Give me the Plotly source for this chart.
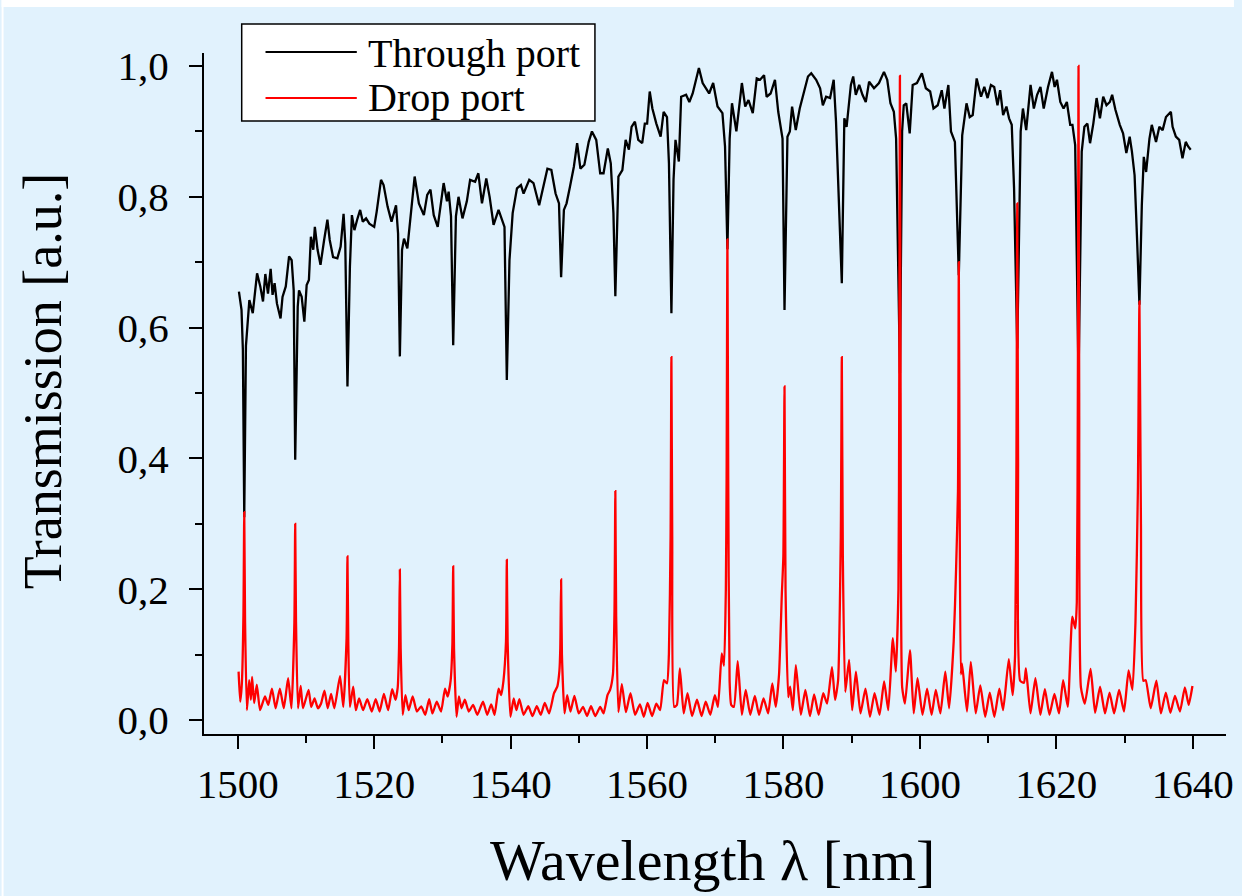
import plotly.graph_objects as go

# ---------------- data ----------------
series_names = ["Through port", "Drop port"]

wl_through = [
    1500.17, 1500.55, 1500.75, 1500.95, 1501.20, 1501.70, 1502.20, 1502.83, 1503.30, 1503.70,
    1504.04, 1504.43, 1504.82, 1505.10, 1505.40, 1505.74, 1506.27, 1506.56, 1507.04, 1507.52,
    1507.90, 1508.20, 1508.42, 1508.79, 1508.98, 1509.37, 1509.76, 1510.10, 1510.43, 1510.72,
    1511.07, 1511.30, 1511.70, 1512.13, 1512.66, 1513.14, 1513.48, 1513.97, 1514.60, 1515.08,
    1515.51, 1515.76, 1516.08, 1516.44, 1516.73, 1517.10, 1517.50, 1517.94, 1518.33, 1518.81,
    1519.29, 1520.00, 1520.36, 1521.00, 1521.38, 1521.96, 1522.54, 1523.20, 1523.50, 1523.76,
    1524.08, 1524.37, 1524.86, 1525.35, 1525.93, 1526.55, 1527.28, 1527.77, 1528.25, 1528.73,
    1529.31, 1530.18, 1530.67, 1530.91, 1531.26, 1531.58, 1531.98, 1532.36, 1532.94, 1533.58,
    1534.06, 1534.79, 1535.27, 1535.80, 1536.43, 1536.92, 1537.50, 1538.23, 1538.85, 1539.10,
    1539.44, 1539.83, 1540.30, 1540.93, 1541.51, 1541.90, 1542.73, 1543.35, 1544.18, 1544.80,
    1545.39, 1545.97, 1546.59, 1547.09, 1547.40, 1547.81, 1548.20, 1548.69, 1549.27, 1549.75,
    1550.23, 1550.81, 1551.45, 1551.92, 1552.55, 1553.13, 1553.62, 1554.25, 1554.68, 1555.07,
    1555.35, 1555.80, 1556.38, 1556.86, 1557.34, 1557.73, 1558.22, 1558.71, 1559.29, 1559.67,
    1560.01, 1560.39, 1560.78, 1561.36, 1561.99, 1562.43, 1562.92, 1563.21, 1563.57, 1563.88,
    1564.17, 1564.66, 1565.00, 1565.72, 1566.20, 1566.69, 1567.17, 1567.60, 1568.15, 1569.10,
    1569.69, 1570.33, 1571.05, 1571.43, 1571.78, 1572.11, 1572.45, 1573.09, 1573.42, 1573.90,
    1574.39, 1574.87, 1575.50, 1576.08, 1576.57, 1577.15, 1577.53, 1578.11, 1578.75, 1579.23,
    1579.86, 1580.15, 1580.58, 1580.93, 1581.26, 1581.80, 1582.38, 1582.86, 1583.59, 1584.07,
    1584.79, 1585.37, 1585.77, 1586.25, 1586.83, 1587.36, 1587.70, 1588.55, 1588.92, 1589.25,
    1589.88, 1590.22, 1590.60, 1591.10, 1591.58, 1592.06, 1592.55, 1593.27, 1594.00, 1594.73,
    1595.21, 1595.68, 1596.18, 1596.51, 1597.07, 1597.39, 1597.63, 1598.00, 1598.50, 1598.94,
    1599.56, 1600.29, 1600.87, 1601.50, 1601.99, 1602.61, 1603.20, 1603.59, 1604.17, 1604.55,
    1605.13, 1605.70, 1606.20, 1606.83, 1607.30, 1607.74, 1608.32, 1608.96, 1609.44, 1609.92,
    1610.41, 1610.89, 1611.37, 1611.76, 1612.20, 1612.68, 1613.07, 1613.46, 1613.80, 1614.27,
    1614.77, 1615.10, 1615.58, 1616.22, 1616.70, 1617.18, 1617.67, 1618.15, 1618.78, 1619.36,
    1619.75, 1620.09, 1620.58, 1621.06, 1621.54, 1622.03, 1622.36, 1622.76, 1623.25, 1623.72,
    1624.11, 1624.55, 1624.94, 1625.42, 1625.90, 1626.39, 1626.87, 1627.35, 1627.84, 1628.18,
    1628.66, 1629.30, 1629.78, 1630.26, 1630.75, 1631.08, 1631.47, 1631.85, 1632.18, 1632.53,
    1632.82, 1633.16, 1633.65, 1633.99, 1634.61, 1635.10, 1635.58, 1636.07, 1636.79, 1637.04,
    1637.52, 1638.01, 1638.49, 1638.97, 1639.32, 1639.70,
]

t_through = [
    0.655, 0.627, 0.566, 0.310, 0.572, 0.642, 0.622, 0.683, 0.663, 0.640,
    0.682, 0.652, 0.690, 0.650, 0.668, 0.637, 0.614, 0.647, 0.663, 0.709,
    0.703, 0.657, 0.398, 0.632, 0.657, 0.647, 0.609, 0.665, 0.673, 0.739,
    0.719, 0.754, 0.719, 0.696, 0.734, 0.765, 0.734, 0.708, 0.706, 0.724,
    0.774, 0.729, 0.510, 0.693, 0.772, 0.749, 0.765, 0.780, 0.762, 0.767,
    0.759, 0.754, 0.777, 0.826, 0.818, 0.785, 0.762, 0.787, 0.744, 0.556,
    0.719, 0.736, 0.721, 0.770, 0.831, 0.790, 0.772, 0.803, 0.811, 0.772,
    0.754, 0.821, 0.793, 0.808, 0.770, 0.573, 0.770, 0.800, 0.767, 0.793,
    0.826, 0.823, 0.836, 0.790, 0.828, 0.800, 0.757, 0.780, 0.759, 0.754,
    0.520, 0.703, 0.775, 0.813, 0.818, 0.805, 0.826, 0.821, 0.787, 0.815,
    0.843, 0.841, 0.805, 0.790, 0.677, 0.780, 0.790, 0.815, 0.846, 0.882,
    0.843, 0.849, 0.884, 0.900, 0.887, 0.836, 0.836, 0.874, 0.851, 0.775,
    0.648, 0.831, 0.841, 0.887, 0.872, 0.907, 0.915, 0.887, 0.882, 0.912,
    0.912, 0.961, 0.935, 0.912, 0.892, 0.930, 0.922, 0.851, 0.622, 0.826,
    0.887, 0.854, 0.953, 0.956, 0.945, 0.958, 0.979, 0.997, 0.974, 0.958,
    0.974, 0.938, 0.928, 0.877, 0.720, 0.889, 0.943, 0.900, 0.930, 0.974,
    0.938, 0.948, 0.928, 0.981, 0.979, 0.986, 0.953, 0.958, 0.979, 0.930,
    0.889, 0.627, 0.892, 0.900, 0.938, 0.902, 0.935, 0.956, 0.984, 0.989,
    0.979, 0.966, 0.940, 0.953, 0.951, 0.979, 0.915, 0.668, 0.920, 0.907,
    0.971, 0.984, 0.956, 0.971, 0.956, 0.945, 0.976, 0.966, 0.974, 0.991,
    0.979, 0.943, 0.930, 0.889, 0.530, 0.900, 0.940, 0.943, 0.897, 0.971,
    0.974, 0.989, 0.966, 0.961, 0.935, 0.940, 0.963, 0.935, 0.971, 0.900,
    0.884, 0.680, 0.894, 0.943, 0.922, 0.925, 0.981, 0.953, 0.968, 0.951,
    0.971, 0.968, 0.940, 0.963, 0.925, 0.938, 0.920, 0.910, 0.813, 0.568,
    0.900, 0.935, 0.902, 0.971, 0.935, 0.956, 0.968, 0.935, 0.968, 0.991,
    0.968, 0.979, 0.945, 0.935, 0.945, 0.910, 0.910, 0.879, 0.522, 0.869,
    0.907, 0.912, 0.882, 0.912, 0.951, 0.920, 0.953, 0.940, 0.945, 0.956,
    0.933, 0.910, 0.897, 0.867, 0.892, 0.869, 0.833, 0.731, 0.635, 0.787,
    0.861, 0.838, 0.889, 0.910, 0.884, 0.907, 0.902, 0.922, 0.930, 0.907,
    0.892, 0.887, 0.859, 0.884, 0.877, 0.872,
]

wl_drop = [
    1500.12, 1500.36, 1500.60, 1500.83, 1500.95, 1501.07, 1501.34, 1501.67, 1501.92, 1502.10,
    1502.40, 1502.79, 1503.27, 1503.99, 1504.47, 1505.01, 1505.55, 1506.17, 1506.75, 1507.38,
    1507.87, 1508.30, 1508.42, 1508.54, 1508.83, 1509.22, 1509.56, 1510.38, 1510.77, 1511.26,
    1511.74, 1512.20, 1512.71, 1513.19, 1513.68, 1514.16, 1514.99, 1515.47, 1515.95, 1516.08,
    1516.20, 1516.44, 1516.92, 1517.31, 1517.79, 1518.37, 1518.99, 1519.64, 1520.22, 1520.80,
    1521.42, 1522.05, 1522.63, 1523.12, 1523.45, 1523.64, 1523.76, 1523.88, 1524.18, 1524.58,
    1525.05, 1525.64, 1526.26, 1526.90, 1527.48, 1528.06, 1528.54, 1529.17, 1529.80, 1530.38,
    1530.76, 1531.20, 1531.46, 1531.58, 1531.70, 1532.07, 1532.42, 1532.80, 1533.29, 1533.87,
    1534.50, 1535.12, 1535.95, 1536.57, 1537.15, 1537.65, 1538.23, 1538.61, 1538.95, 1539.32,
    1539.44, 1539.56, 1539.97, 1540.45, 1540.84, 1541.28, 1541.90, 1542.59, 1543.21, 1543.83,
    1544.42, 1545.00, 1545.64, 1546.36, 1546.84, 1547.15, 1547.28, 1547.40, 1547.52, 1547.90,
    1548.29, 1548.77, 1549.35, 1549.99, 1550.62, 1551.20, 1551.78, 1552.40, 1553.13, 1553.62,
    1554.20, 1554.58, 1555.00, 1555.23, 1555.35, 1555.47, 1555.80, 1556.30, 1556.90, 1557.57,
    1558.24, 1558.96, 1559.52, 1560.08, 1560.74, 1561.36, 1561.92, 1562.47, 1562.92, 1563.20,
    1563.45, 1563.57, 1563.69, 1563.98, 1564.37, 1564.81, 1565.37, 1565.93, 1566.60, 1567.32,
    1567.99, 1568.60, 1569.27, 1569.94, 1570.39, 1570.95, 1571.28, 1571.55, 1571.66, 1571.78,
    1571.90, 1572.10, 1572.34, 1572.73, 1573.29, 1573.90, 1574.46, 1575.13, 1575.80, 1576.41,
    1577.08, 1577.75, 1578.36, 1578.86, 1579.35, 1579.75, 1579.98, 1580.15, 1580.30, 1580.70,
    1580.98, 1581.37, 1581.81, 1582.54, 1583.21, 1583.88, 1584.49, 1585.16, 1585.83, 1586.39,
    1587.11, 1587.56, 1588.00, 1588.40, 1588.55, 1588.70, 1589.06, 1589.62, 1590.07, 1590.62,
    1591.29, 1592.02, 1592.68, 1593.35, 1594.08, 1594.75, 1595.36, 1596.03, 1596.47, 1596.85,
    1596.97, 1597.07, 1597.17, 1597.40, 1597.81, 1598.54, 1599.09, 1599.65, 1600.38, 1601.05,
    1601.71, 1602.33, 1603.00, 1603.72, 1604.28, 1604.95, 1605.30, 1605.58, 1605.70, 1605.82,
    1606.00, 1606.18, 1606.90, 1607.46, 1608.18, 1608.85, 1609.57, 1610.24, 1610.91, 1611.64,
    1612.19, 1613.03, 1613.59, 1613.95, 1614.15, 1614.27, 1614.39, 1614.70, 1615.26, 1615.54,
    1616.21, 1616.93, 1617.66, 1618.32, 1618.99, 1619.72, 1620.39, 1621.00, 1621.67, 1622.34,
    1622.78, 1623.00, 1623.15, 1623.25, 1623.35, 1623.60, 1624.18, 1625.02, 1625.68, 1626.41,
    1627.13, 1627.80, 1628.47, 1629.20, 1629.92, 1630.59, 1631.15, 1631.60, 1631.95, 1632.18,
    1632.40, 1632.75, 1633.10, 1633.83, 1634.66, 1635.33, 1636.05, 1636.72, 1637.39, 1638.12,
    1638.84, 1639.40, 1639.95,
]

t_drop = [
    0.074, 0.028, 0.056, 0.160, 0.318, 0.150, 0.015, 0.061, 0.031, 0.066,
    0.026, 0.054, 0.015, 0.036, 0.023, 0.048, 0.018, 0.048, 0.018, 0.064,
    0.018, 0.150, 0.300, 0.150, 0.018, 0.052, 0.018, 0.046, 0.020, 0.033,
    0.018, 0.025, 0.045, 0.018, 0.040, 0.018, 0.067, 0.020, 0.125, 0.250,
    0.120, 0.020, 0.051, 0.015, 0.033, 0.015, 0.032, 0.013, 0.032, 0.013,
    0.040, 0.015, 0.047, 0.031, 0.050, 0.110, 0.230, 0.110, 0.008, 0.038,
    0.015, 0.036, 0.013, 0.021, 0.008, 0.032, 0.010, 0.028, 0.013, 0.048,
    0.036, 0.060, 0.115, 0.235, 0.110, 0.005, 0.036, 0.018, 0.031, 0.013,
    0.023, 0.008, 0.028, 0.008, 0.024, 0.008, 0.048, 0.038, 0.060, 0.120,
    0.245, 0.120, 0.005, 0.033, 0.015, 0.032, 0.008, 0.021, 0.006, 0.021,
    0.008, 0.026, 0.010, 0.041, 0.051, 0.075, 0.110, 0.215, 0.100, 0.010,
    0.038, 0.013, 0.037, 0.010, 0.020, 0.006, 0.021, 0.006, 0.020, 0.010,
    0.038, 0.046, 0.070, 0.170, 0.350, 0.160, 0.012, 0.055, 0.012, 0.041,
    0.008, 0.024, 0.005, 0.026, 0.006, 0.025, 0.015, 0.061, 0.056, 0.100,
    0.280, 0.555, 0.280, 0.020, 0.023, 0.079, 0.010, 0.041, 0.006, 0.031,
    0.006, 0.028, 0.008, 0.038, 0.020, 0.102, 0.083, 0.200, 0.370, 0.735,
    0.370, 0.060, 0.023, 0.020, 0.090, 0.008, 0.046, 0.008, 0.037, 0.008,
    0.033, 0.010, 0.056, 0.020, 0.070, 0.190, 0.250, 0.510, 0.200, 0.035,
    0.051, 0.015, 0.084, 0.008, 0.046, 0.006, 0.039, 0.008, 0.041, 0.025,
    0.081, 0.031, 0.060, 0.280, 0.555, 0.250, 0.043, 0.092, 0.015, 0.074,
    0.010, 0.048, 0.005, 0.041, 0.008, 0.059, 0.015, 0.125, 0.074, 0.200,
    0.500, 0.985, 0.500, 0.050, 0.025, 0.107, 0.010, 0.064, 0.008, 0.048,
    0.008, 0.046, 0.010, 0.074, 0.018, 0.120, 0.230, 0.350, 0.700, 0.350,
    0.070, 0.086, 0.013, 0.089, 0.010, 0.053, 0.005, 0.042, 0.005, 0.048,
    0.015, 0.093, 0.038, 0.100, 0.400, 0.790, 0.400, 0.060, 0.057, 0.079,
    0.010, 0.064, 0.008, 0.047, 0.008, 0.040, 0.010, 0.061, 0.020, 0.158,
    0.140, 0.180, 0.500, 1.000, 0.500, 0.050, 0.025, 0.078, 0.011, 0.051,
    0.010, 0.042, 0.010, 0.046, 0.013, 0.076, 0.046, 0.150, 0.350, 0.640,
    0.300, 0.060, 0.061, 0.018, 0.060, 0.010, 0.042, 0.011, 0.037, 0.013,
    0.050, 0.023, 0.052,
]

x_tick_vals = [1500, 1520, 1540, 1560, 1580, 1600, 1620, 1640]
x_tick_text = ["1500", "1520", "1540", "1560", "1580", "1600", "1620", "1640"]
x_minor_vals = [1510, 1530, 1550, 1570, 1590, 1610, 1630]
y_tick_vals = [0.0, 0.2, 0.4, 0.6, 0.8, 1.0]
y_tick_text = ["0,0", "0,2", "0,4", "0,6", "0,8", "1,0"]
y_minor_vals = [0.1, 0.3, 0.5, 0.7, 0.9]

assert len(wl_through) == len(t_through)
assert len(wl_drop) == len(t_drop)

# ---------------- layout geometry ----------------
W, H = 1242, 896
L, R, T, B = 204, 8, 53, 162
PW, PH = W - L - R, H - T - B
BG = "#e1f2fd"
FONT = "Liberation Serif"


def px(xp):
    return (xp - L) / PW


def py(yp):
    return (H - B - yp) / PH


fig = go.Figure()
fig.add_trace(go.Scatter(x=wl_through, y=t_through, mode="lines", name=series_names[0],
                         line=dict(color="#000000", width=2.3)))
fig.add_trace(go.Scatter(x=wl_drop, y=t_drop, mode="lines", name=series_names[1],
                         line=dict(color="#ff0000", width=2.3, shape="spline", smoothing=0.5)))

axis_common = dict(
    showline=True, linecolor="black", linewidth=2,
    ticks="outside", tickcolor="black", tickwidth=2, ticklen=13,
    showgrid=False, zeroline=False, tickmode="array",
    tickfont=dict(family=FONT, size=41, color="black"),
)

fig.update_layout(
    width=W, height=H,
    margin=dict(l=L, r=R, t=T, b=B, pad=0),
    paper_bgcolor=BG, plot_bgcolor=BG,
    showlegend=False,
    font=dict(family=FONT, color="black"),
    xaxis=dict(range=[1495.05, 1644.87], tickvals=x_tick_vals, ticktext=x_tick_text,
               minor=dict(tickvals=x_minor_vals, ticks="outside", ticklen=7, tickwidth=2,
                          tickcolor="black", showgrid=False),
               **axis_common),
    yaxis=dict(range=[-0.0214, 1.0199], tickvals=y_tick_vals, ticktext=y_tick_text,
               ticklabelstandoff=12,
               minor=dict(tickvals=y_minor_vals, ticks="outside", ticklen=7, tickwidth=2,
                          tickcolor="black", showgrid=False),
               **axis_common),
)

shapes = [
    # white strips at the top / left edge of the picture
    dict(type="rect", xref="paper", yref="paper", x0=px(0), x1=px(W), y0=py(7), y1=py(0),
         fillcolor="white", line=dict(width=0), layer="below"),
    dict(type="rect", xref="paper", yref="paper", x0=px(0), x1=px(2), y0=py(H), y1=py(0),
         fillcolor="white", line=dict(width=0), layer="below"),
    # legend frame
    dict(type="rect", xref="paper", yref="paper", x0=px(242), x1=px(598), y0=py(121), y1=py(24),
         fillcolor="white", line=dict(color="black", width=1.5)),
    dict(type="line", xref="paper", yref="paper", x0=px(266), x1=px(358), y0=py(52), y1=py(52),
         line=dict(color="#000000", width=2)),
    dict(type="line", xref="paper", yref="paper", x0=px(266), x1=px(358), y0=py(98), y1=py(98),
         line=dict(color="#ff0000", width=2)),
]

annotations = [
    dict(text=series_names[0], xref="paper", yref="paper", x=px(367), y=py(53),
         xanchor="left", yanchor="middle", showarrow=False,
         font=dict(family=FONT, size=40, color="black")),
    dict(text=series_names[1], xref="paper", yref="paper", x=px(367), y=py(98),
         xanchor="left", yanchor="middle", showarrow=False,
         font=dict(family=FONT, size=40, color="black")),
    dict(text="Wavelength λ [nm]", xref="paper", yref="paper", x=px(716), y=py(860),
         xanchor="center", yanchor="middle", showarrow=False,
         font=dict(family=FONT, size=58, color="black")),
    dict(text="Transmission [a.u.]", xref="paper", yref="paper", x=px(42), y=py(381),
         xanchor="center", yanchor="middle", showarrow=False, textangle=-90,
         font=dict(family=FONT, size=54, color="black")),
]

fig.update_layout(shapes=shapes, annotations=annotations)
fig.write_html("out.html")
